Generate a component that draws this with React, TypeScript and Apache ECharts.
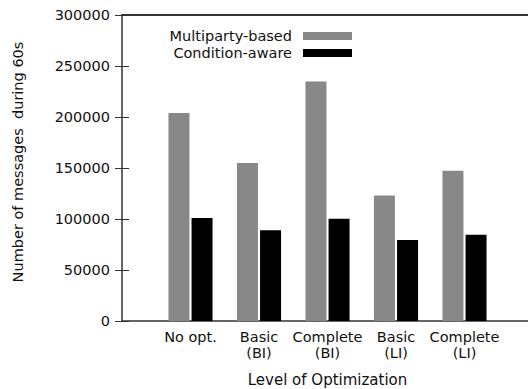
import React, { useEffect, useRef } from "react";
import * as echarts from "echarts";

const categories = ["No opt.", "Basic\n(BI)", "Complete\n(BI)", "Basic\n(LI)", "Complete\n(LI)"];
const positions = [1, 2, 3, 4, 5];
const multiparty = [204000, 155000, 234800, 123000, 147200];
const conditionAware = [101000, 89000, 100200, 79500, 84500];
const yTicks = [0, 50000, 100000, 150000, 200000, 250000, 300000];

const FONT = "DejaVu Sans";
const CHART_W = 540;

export default function App() {
  const ref = useRef<HTMLDivElement>(null);
  useEffect(() => {
    if (!ref.current) return;
    const chart = echarts.init(ref.current, null, { renderer: "svg" });
    const yMax = yTicks[yTicks.length - 1];
    const yInterval = yTicks[1] - yTicks[0];
    chart.setOption({
      animation: false,
      backgroundColor: "#ffffff",
      textStyle: { fontFamily: FONT },
      grid: {
        left: 122,
        right: CHART_W - 533,
        top: 15,
        bottom: 68,
        show: false,
        outerBoundsMode: "none",
      },
      legend: {
        orient: "vertical",
        align: "right",
        right: CHART_W - 357,
        top: 23,
        itemWidth: 49,
        itemHeight: 8,
        itemGap: 1,
        icon: "rect",
        textStyle: {
          fontFamily: FONT,
          fontSize: 14.5,
          color: "#111",
          padding: [0, 6, 0, 0],
          lineHeight: 16,
        },
        data: ["Multiparty-based", "Condition-aware"],
      },
      xAxis: [
        {
          type: "value",
          min: 0,
          max: 6,
          interval: 1,
          position: "bottom",
          name: "Level of Optimization",
          nameLocation: "middle",
          nameGap: 51,
          nameTextStyle: { fontFamily: FONT, fontSize: 15, color: "#111", verticalAlign: "top" },
          axisLine: { show: true, onZero: false, lineStyle: { color: "#333", width: 1.5 } },
          axisTick: { show: false },
          splitLine: { show: false },
          axisLabel: {
            fontFamily: FONT,
            fontSize: 14.5,
            lineHeight: 16,
            color: "#111",
            margin: 8,
            showMinLabel: true,
            showMaxLabel: true,
            formatter: (v: number) => {
              const i = positions.indexOf(Math.round(v));
              return i >= 0 ? categories[i] : "";
            },
          },
        },
        {
          type: "value",
          min: 0,
          max: 6,
          interval: 1,
          position: "top",
          axisLine: { show: true, onZero: false, lineStyle: { color: "#333", width: 2 } },
          axisTick: { show: false },
          splitLine: { show: false },
          axisLabel: { show: false },
        },
      ],
      yAxis: [
        {
          type: "value",
          min: 0,
          max: yMax,
          interval: yInterval,
          position: "left",
          name: "Number of messages  during 60s",
          nameLocation: "middle",
          nameGap: 97,
          nameTextStyle: { fontFamily: FONT, fontSize: 14.5, color: "#111", padding: [0, 0, 0, 12] },
          axisLine: { show: true, onZero: false, lineStyle: { color: "#333", width: 1.5 } },
          axisTick: { show: true, inside: true, length: 7, lineStyle: { color: "#333" } },
          splitLine: { show: false },
          axisLabel: {
            fontFamily: FONT,
            fontSize: 14.5,
            color: "#111",
            margin: 12,
            formatter: (v: number) => String(v),
          },
        },
        {
          type: "value",
          min: 0,
          max: yMax,
          interval: yInterval,
          position: "right",
          axisLine: { show: false },
          axisTick: { show: true, inside: true, length: 7, lineStyle: { color: "#333" } },
          splitLine: { show: false },
          axisLabel: { show: false },
        },
      ],
      series: [
        {
          name: "Multiparty-based",
          type: "bar",
          xAxisIndex: 0,
          yAxisIndex: 0,
          barWidth: 21,
          barGap: "10%",
          itemStyle: { color: "#888888" },
          data: positions.map((p, i) => [p, multiparty[i]]),
        },
        {
          name: "Condition-aware",
          type: "bar",
          xAxisIndex: 0,
          yAxisIndex: 0,
          barWidth: 21,
          barGap: "10%",
          itemStyle: { color: "#000000" },
          data: positions.map((p, i) => [p, conditionAware[i]]),
        },
      ],
    });
    return () => chart.dispose();
  }, []);
  return (
    <div style={{ position: "fixed", left: 0, top: 0, width: 528, height: 389, overflow: "hidden" }}>
      <div ref={ref} style={{ width: CHART_W, height: 389 }} />
    </div>
  );
}
